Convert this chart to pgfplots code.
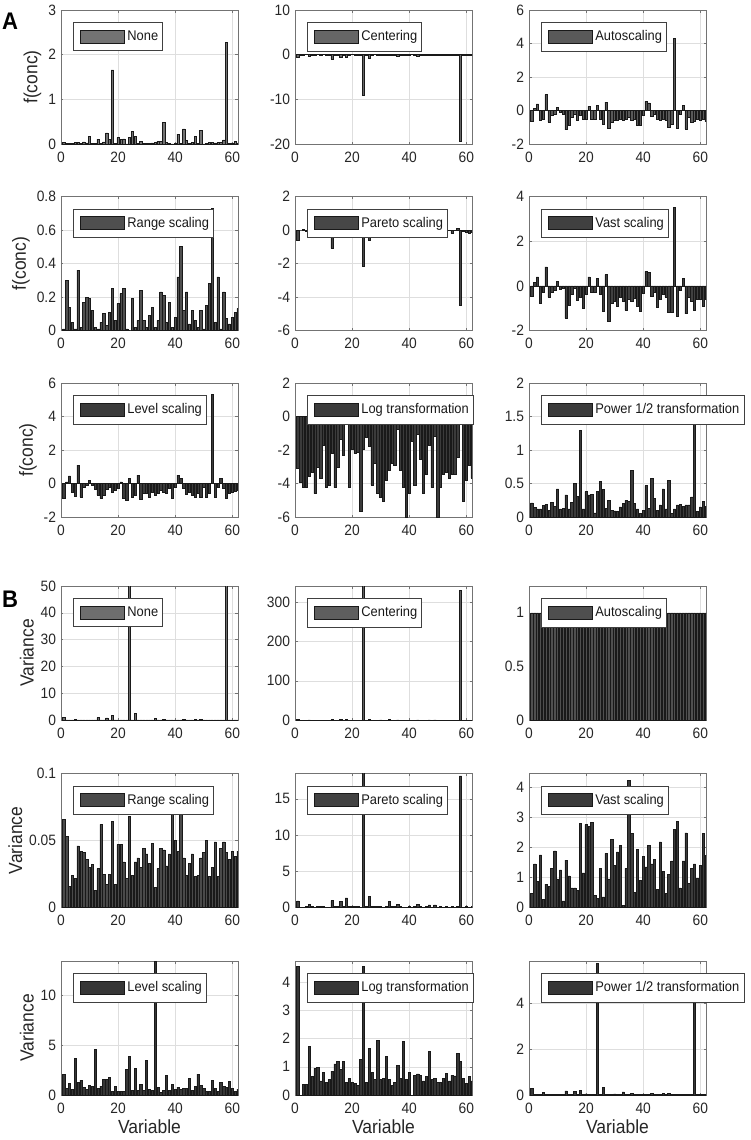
\documentclass[border=0pt]{standalone}
\usepackage{fontspec}
\setmainfont{Liberation Sans}[FakeStretch=0.92]
\usepackage{pgfplots}
\usepackage{pgfplotstable}
\pgfplotsset{compat=1.18}

\newcommand\tickf{\fontsize{15}{17}\selectfont}
\newcommand\legf{\fontsize{14}{16}\selectfont}
\newcommand\labf{\fontsize{19}{21}\selectfont}

\definecolor{a1}{gray}{0.45}\definecolor{a2}{gray}{0.40}\definecolor{a3}{gray}{0.35}
\definecolor{a4}{gray}{0.31}\definecolor{a5}{gray}{0.28}\definecolor{a6}{gray}{0.25}
\definecolor{a7}{gray}{0.23}\definecolor{a8}{gray}{0.23}\definecolor{a9}{gray}{0.23}
\definecolor{b1}{gray}{0.43}\definecolor{b2}{gray}{0.37}\definecolor{b3}{gray}{0.31}
\definecolor{b4}{gray}{0.29}\definecolor{b5}{gray}{0.26}\definecolor{b6}{gray}{0.23}
\definecolor{b7}{gray}{0.21}\definecolor{b8}{gray}{0.21}\definecolor{b9}{gray}{0.21}

\pgfplotsset{
 sub/.style={
  scale only axis, width=177pt, height=134pt, anchor=south west,
  xmin=0, xmax=62, xtick={0,20,40,60},
  ybar, bar width=0.8,
  grid=major, grid style={black!13, line width=0.5pt},
  axis line style={black!55, line width=0.6pt},
  tick style={black!55, line width=0.5pt}, major tick length=2.5pt, tick align=inside,
  ticklabel style={font=\tickf, text=black!85},
  /pgf/number format/assume math mode=true,
  scaled y ticks=false,
  yticklabel style={/pgf/number format/fixed, /pgf/number format/precision=2, xshift=-1.5pt},
  xticklabel style={yshift=-4pt},
  ylabel style={font=\labf, text=black!85},
  xlabel style={font=\labf, text=black!85},
  legend style={at={(0,1)}, anchor=north west, xshift=12pt, yshift=-12pt, draw=black!75, line width=0.6pt, fill=white, inner xsep=2pt, inner ysep=6pt, font=\legf, text=black!90, nodes={inner sep=2.5pt}},
  legend cell align=left,
  legend image code/.code={\path (0pt,0pt); \draw[##1, line width=0.6pt] (5pt,-6.5pt) rectangle (49pt,6.5pt);},
 },
 bars/.style={fill=#1, draw=black!90, line width=0.6pt},
}

\pgfplotstableread{
x none cent auto range pareto vast level log power
1 0.044 -0.6 -0.65 0.01 -0.6 -0.45 -0.9 -3.12 0.21
2 0.020 -0.1 0.12 0.30 0.0 0.15 0.1 -3.93 0.14
3 0.014 -0.05 0.4 0.14 0.05 0.4 0.45 -4.24 0.12
4 0.014 0.05 -0.6 0.05 -0.05 -0.8 -0.5 -4.24 0.12
5 0.029 -0.3 -0.5 0.01 -0.25 -0.3 -0.75 -3.54 0.17
6 0.036 -0.05 0.95 0.36 -0.05 0.85 1.1 -3.32 0.19
7 0.010 -0.1 -0.7 0.02 -0.05 -0.5 -0.8 -4.61 0.10
8 0.048 0.05 -0.3 0.17 0.0 -0.3 -0.2 -3.03 0.22
9 0.026 -0.1 -0.2 0.20 -0.05 -0.2 -0.1 -3.67 0.16
10 0.176 0.05 0.2 0.19 0.02 0.2 0.2 -1.74 0.42
11 0.014 -0.1 -0.1 0.12 -0.05 -0.15 -0.1 -4.24 0.12
12 0.017 -0.1 -0.25 0.02 -0.05 -0.1 -0.35 -4.08 0.13
13 0.109 -1.0 -1.15 0.01 -1.1 -1.45 -0.7 -2.22 0.33
14 0.014 -0.1 -0.9 0.05 -0.05 -0.85 -0.9 -4.24 0.12
15 0.048 -0.1 -0.4 0.10 -0.05 -0.4 -0.7 -3.03 0.22
16 0.250 -0.5 -0.2 0.03 -0.45 -0.1 -0.35 -1.39 0.50
17 0.096 -0.1 -0.6 0.11 -0.05 -0.65 -0.25 -2.34 0.31
18 1.66 -0.6 -0.3 0.25 -0.45 -0.5 -0.5 0.51 1.29
19 0.014 -0.1 -0.5 0.06 -0.05 -1.0 -0.4 -4.24 0.12
20 0.144 0.05 -0.55 0.16 0.02 -0.4 -0.3 -1.94 0.38
21 0.109 -0.1 0.25 0.22 -0.05 0.4 0.1 -2.22 0.33
22 0.116 -0.05 -0.55 0.25 -0.02 -0.3 -0.9 -2.16 0.34
23 0.004 -0.1 -0.5 0.01 -0.05 -0.3 -1.0 -5.63 0.06
24 0.144 -9.2 0.3 0.00 -2.15 0.35 0.3 -1.94 0.38
25 0.281 -0.1 -0.5 0.19 -0.05 -0.4 -0.8 -1.27 0.53
26 0.168 -0.8 -0.85 0.02 -0.6 -1.15 -0.7 -1.78 0.41
27 0.017 -0.1 0.5 0.06 -0.05 0.5 0.5 -4.08 0.13
28 0.063 0.05 -1.05 0.24 0.02 -1.6 -0.95 -2.77 0.25
29 0.010 -0.1 -0.7 0.06 -0.05 -0.8 -0.6 -4.61 0.10
30 0.008 -0.1 -0.6 0.02 -0.05 -0.7 -0.6 -4.82 0.09
31 0.006 -0.05 -0.6 0.09 -0.02 -0.9 -0.85 -5.05 0.08
32 0.023 -0.1 -0.5 0.14 -0.05 -0.5 -0.5 -3.79 0.15
33 0.040 -0.2 -0.6 0.02 -0.1 -0.7 -0.7 -3.22 0.20
34 0.063 -0.05 -0.5 0.06 -0.02 -1.1 -0.6 -2.77 0.25
35 0.053 -0.1 -0.4 0.23 -0.05 -0.6 -0.4 -2.94 0.23
36 0.476 -0.3 -0.6 0.21 -0.15 -0.7 -0.5 -0.74 0.69
37 0.040 -0.1 -0.5 0.05 -0.05 -0.55 -0.6 -3.22 0.20
38 0.014 -0.05 -0.9 0.17 -0.02 -0.9 -0.3 -4.24 0.12
39 0.003 -0.1 -0.9 0.02 -0.05 -1.15 -0.9 -5.99 0.05
40 0.010 -0.05 -0.3 0.08 -0.02 -0.35 -0.2 -4.61 0.10
41 0.221 0.05 0.55 0.32 0.02 0.65 0.5 -1.51 0.47
42 0.017 -0.1 0.45 0.50 -0.05 0.6 0.3 -4.08 0.13
43 0.336 -0.3 -0.35 0.12 -0.15 -0.45 -0.3 -1.09 0.58
44 0.078 -0.1 -0.2 0.23 -0.05 -0.3 -0.65 -2.55 0.28
45 0.010 -0.05 -0.55 0.04 -0.02 -0.95 -0.5 -4.61 0.10
46 0.032 -0.1 -0.6 0.12 -0.05 -0.6 -0.7 -3.43 0.18
47 0.176 -0.2 -0.5 0.06 -0.15 -0.4 -0.85 -1.74 0.42
48 0.014 -0.05 -0.6 0.02 -0.02 -0.5 -0.6 -4.24 0.12
49 0.303 -0.2 -1.0 0.12 -0.1 -1.2 -0.8 -1.20 0.55
50 0.003 -0.05 -0.8 0.01 -0.02 -1.2 -0.2 -5.99 0.05
51 0.014 -0.1 4.3 0.15 -0.05 3.5 -0.85 -4.24 0.12
52 0.032 -0.05 -1.05 0.28 -0.02 -1.35 -0.6 -3.43 0.18
53 0.036 -0.1 -0.2 0.73 -0.05 -0.2 5.3 -3.32 0.19
54 0.026 -0.05 0.3 0.05 -0.02 0.35 -0.85 -3.67 0.16
55 0.032 -0.2 -1.1 0.32 -0.2 -1.25 -0.25 -3.43 0.18
56 0.032 -0.05 -0.4 0.01 -0.02 -0.5 0.3 -3.43 0.18
57 0.090 -0.1 -0.7 0.23 0.1 -0.7 -0.3 -2.41 0.30
58 2.28 -19.5 -0.65 0.07 -4.5 -1.1 -0.9 0.82 1.51
59 0.006 -0.1 -0.5 0.04 -0.1 -0.6 -0.6 -5.05 0.08
60 0.023 -0.05 -0.6 0.08 -0.15 -0.6 -0.5 -3.79 0.15
61 0.053 -0.1 -0.55 0.11 -0.2 -0.9 -0.45 -2.94 0.23
62 0.026 -0.1 -0.65 0.13 -0.15 -0.6 -0.4 -3.67 0.16
}\tabA

\pgfplotstableread{
x none cent auto range pareto vast level log power
1 0.85 0.85 1 0.066 0.92 0.47 2.1 4.55 0.30
2 0.005 0.005 1 0.053 0.07 1.45 0.7 0.0 0.01
3 0.005 0.005 1 0.016 0.07 0.88 1.2 0.38 0.01
4 0.01 0.01 1 0.024 0.1 1.75 0.6 0.38 0.01
5 0.2 0.2 1 0.022 0.45 0.28 3.7 1.72 0.10
6 0.01 0.01 1 0.046 0.1 0.78 1.3 0.65 0.01
7 0.005 0.005 1 0.042 0.07 0.7 1.5 0.95 0.01
8 0.01 0.01 1 0.041 0.1 1.3 0.8 0.97 0.01
9 0.02 0.02 1 0.036 0.14 1.88 0.6 0.5 0.03
10 0.01 0.01 1 0.030 0.1 0.95 1.0 0.8 0.01
11 0.005 0.005 1 0.032 0.07 1.25 0.9 0.45 0.01
12 0.005 0.005 1 0.013 0.07 0.22 4.6 0.55 0.01
13 0.9 0.9 1 0.029 0.95 1.57 0.7 0.85 0.18
14 0.01 0.01 1 0.062 0.1 1.05 0.9 1.1 0.01
15 0.01 0.01 1 0.025 0.1 0.65 1.6 1.18 0.01
16 0.8 0.8 1 0.017 0.89 0.65 1.6 0.9 0.15
17 0.02 0.02 1 0.025 0.14 0.58 1.8 1.18 0.02
18 1.8 1.8 1 0.064 1.34 2.8 0.4 0.45 0.20
19 0.01 0.01 1 0.017 0.1 1.15 0.9 0.6 0.01
20 0.02 0.02 1 0.047 0.14 2.75 0.4 0.45 0.05
21 0.01 0.01 1 0.047 0.1 2.7 0.4 0.4 0.01
22 0.01 0.01 1 0.034 0.1 2.82 0.4 0.35 0.01
23 0.005 0.005 1 0.022 0.07 0.4 2.6 1.25 0.01
24 345 345 1 0.068 18.6 0.3 3.9 4.57 5.75
25 0.01 0.01 1 0.024 0.1 1.3 0.5 0.45 0.01
26 2.4 2.4 1 0.034 1.55 0.35 2.7 1.65 0.33
27 0.01 0.01 1 0.037 0.1 1.8 0.5 0.8 0.01
28 0.01 0.01 1 0.030 0.1 0.95 1.1 0.55 0.01
29 0.01 0.01 1 0.044 0.1 2.25 0.5 1.93 0.01
30 0.04 0.04 1 0.040 0.2 1.4 3.5 0.55 0.05
31 0.005 0.005 1 0.033 0.07 1.85 0.6 0.6 0.01
32 0.01 0.01 1 0.048 0.1 2.05 0.5 1.38 0.01
33 0.7 0.7 1 0.015 0.84 0.08 13.4 0.55 0.14
34 0.01 0.01 1 0.029 0.1 1.3 0.8 0.35 0.01
35 0.01 0.01 1 0.044 0.1 4.22 0.3 0.45 0.01
36 0.2 0.2 1 0.043 0.45 2.45 0.5 1.05 0.08
37 0.01 0.01 1 0.031 0.1 0.5 2.0 0.6 0.01
38 0.005 0.005 1 0.040 0.07 1.93 0.5 1.9 0.01
39 0.005 0.005 1 0.085 0.07 0.9 1.1 0.55 0.01
40 0.01 0.01 1 0.050 0.1 1.7 0.6 0.8 0.01
41 0.005 0.005 1 0.042 0.07 1.35 0.8 0.0 0.01
42 0.01 0.01 1 0.078 0.1 2.05 0.6 0.7 0.01
43 0.15 0.15 1 0.037 0.39 1.45 0.7 0.75 0.08
44 0.01 0.01 1 0.024 0.1 1.6 0.7 0.7 0.01
45 0.005 0.005 1 0.033 0.07 0.6 1.7 0.5 0.01
46 0.01 0.01 1 0.040 0.1 2.18 0.5 0.65 0.01
47 0.12 0.12 1 0.023 0.35 1.2 0.9 1.55 0.07
48 0.005 0.005 1 0.024 0.07 0.48 2.1 0.55 0.01
49 0.12 0.12 1 0.037 0.35 1.1 1.0 0.6 0.07
50 0.005 0.005 1 0.041 0.07 1.55 0.7 0.45 0.01
51 0.01 0.01 1 0.050 0.1 2.6 0.4 0.45 0.01
52 0.005 0.005 1 0.023 0.07 2.85 0.4 0.6 0.01
53 0.01 0.01 1 0.030 0.1 0.65 1.5 0.78 0.02
54 0.005 0.005 1 0.049 0.07 1.55 0.7 0.5 0.02
55 0.01 0.01 1 0.023 0.1 2.48 0.4 0.7 0.01
56 0.005 0.005 1 0.044 0.07 0.8 1.3 0.68 0.01
57 0.01 0.01 1 0.049 0.1 1.3 0.9 1.48 0.01
58 330 330 1 0.041 18.17 1.45 0.8 1.2 4.1
59 0.005 0.005 1 0.036 0.07 0.98 1.4 0.6 0.01
60 0.01 0.01 1 0.042 0.1 1.4 0.7 0.4 0.01
61 0.005 0.005 1 0.038 0.07 2.47 0.4 0.65 0.01
62 0.01 0.01 1 0.042 0.1 1.73 0.6 0.5 0.01
}\tabB

\begin{document}
\begin{tikzpicture}
\path[use as bounding box] (0pt,0pt) rectangle (750pt,-1140pt);
\node[font=\fontsize{24}{26}\selectfont\bfseries] at (10pt,-21pt) {A};
\node[font=\fontsize{24}{26}\selectfont\bfseries] at (10pt,-599pt) {B};

% ---------- Panel A ----------
\begin{axis}[sub, at={(61pt,-144pt)}, ymin=0, ymax=3, ytick={0,1,2,3}, ylabel={f(conc)}]
\addplot[bars=a1] table[x=x,y=none]{\tabA}; \addlegendentry{None}
\end{axis}
\begin{axis}[sub, at={(295pt,-144pt)}, ymin=-20, ymax=10, ytick={-20,-10,0,10}]
\addplot[bars=a2] table[x=x,y=cent]{\tabA}; \addlegendentry{Centering}
\end{axis}
\begin{axis}[sub, at={(529pt,-144pt)}, ymin=-2, ymax=6, ytick={-2,0,2,4,6}]
\addplot[bars=a3] table[x=x,y=auto]{\tabA}; \addlegendentry{Autoscaling}
\end{axis}

\begin{axis}[sub, at={(61pt,-330.5pt)}, ymin=0, ymax=0.8, ytick={0,0.2,0.4,0.6,0.8}, ylabel={f(conc)}]
\addplot[bars=a4] table[x=x,y=range]{\tabA}; \addlegendentry{Range scaling}
\end{axis}
\begin{axis}[sub, at={(295pt,-330.5pt)}, ymin=-6, ymax=2, ytick={-6,-4,-2,0,2}]
\addplot[bars=a5] table[x=x,y=pareto]{\tabA}; \addlegendentry{Pareto scaling}
\end{axis}
\begin{axis}[sub, at={(529pt,-330.5pt)}, ymin=-2, ymax=4, ytick={-2,0,2,4}]
\addplot[bars=a6] table[x=x,y=vast]{\tabA}; \addlegendentry{Vast scaling}
\end{axis}

\begin{axis}[sub, at={(61pt,-517pt)}, ymin=-2, ymax=6, ytick={-2,0,2,4,6}, ylabel={f(conc)}]
\addplot[bars=a7] table[x=x,y=level]{\tabA}; \addlegendentry{Level scaling}
\end{axis}
\begin{axis}[sub, at={(295pt,-517pt)}, ymin=-6, ymax=2, ytick={-6,-4,-2,0,2}]
\addplot[bars=a8] table[x=x,y=log]{\tabA}; \addlegendentry{Log transformation}
\end{axis}
\begin{axis}[sub, at={(529pt,-517pt)}, ymin=0, ymax=2, ytick={0,0.5,1,1.5,2}]
\addplot[bars=a9] table[x=x,y=power]{\tabA}; \addlegendentry{Power 1/2 transformation}
\end{axis}

% ---------- Panel B ----------
\begin{axis}[sub, at={(61pt,-720pt)}, ymin=0, ymax=50, ytick={0,10,20,30,40,50}, ylabel={Variance}]
\addplot[bars=b1] table[x=x,y=none]{\tabB}; \addlegendentry{None}
\end{axis}
\begin{axis}[sub, at={(295pt,-720pt)}, ymin=0, ymax=342, ytick={0,100,200,300}]
\addplot[bars=b2] table[x=x,y=cent]{\tabB}; \addlegendentry{Centering}
\end{axis}
\begin{axis}[sub, at={(529pt,-720pt)}, ymin=0, ymax=1.25, ytick={0,0.5,1}]
\addplot[bars=b3] table[x=x,y=auto]{\tabB}; \addlegendentry{Autoscaling}
\end{axis}

\begin{axis}[sub, at={(61pt,-907.5pt)}, ymin=0, ymax=0.1, ytick={0,0.05,0.1}, ylabel={Variance}]
\addplot[bars=b4] table[x=x,y=range]{\tabB}; \addlegendentry{Range scaling}
\end{axis}
\begin{axis}[sub, at={(295pt,-907.5pt)}, ymin=0, ymax=18.5, ytick={0,5,10,15}]
\addplot[bars=b5] table[x=x,y=pareto]{\tabB}; \addlegendentry{Pareto scaling}
\end{axis}
\begin{axis}[sub, at={(529pt,-907.5pt)}, ymin=0, ymax=4.45, ytick={0,1,2,3,4}]
\addplot[bars=b6] table[x=x,y=vast]{\tabB}; \addlegendentry{Vast scaling}
\end{axis}

\begin{axis}[sub, at={(61pt,-1095pt)}, ymin=0, ymax=13.4, ytick={0,5,10}, ylabel={Variance}, xlabel={Variable}]
\addplot[bars=b7] table[x=x,y=level]{\tabB}; \addlegendentry{Level scaling}
\end{axis}
\begin{axis}[sub, at={(295pt,-1095pt)}, ymin=0, ymax=4.75, ytick={0,1,2,3,4}, xlabel={Variable}]
\addplot[bars=b8] table[x=x,y=log]{\tabB}; \addlegendentry{Log transformation}
\end{axis}
\begin{axis}[sub, at={(529pt,-1095pt)}, ymin=0, ymax=5.85, ytick={0,2,4}, xlabel={Variable}]
\addplot[bars=b9] table[x=x,y=power]{\tabB}; \addlegendentry{Power 1/2 transformation}
\end{axis}
\end{tikzpicture}
\end{document}
